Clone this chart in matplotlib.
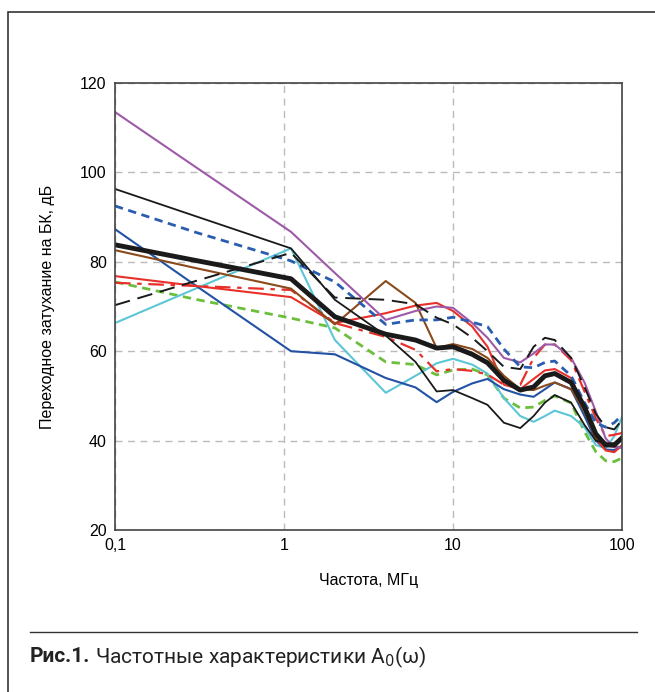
import numpy as np
import matplotlib
matplotlib.use("Agg")
import matplotlib.pyplot as plt
from matplotlib.patches import Rectangle
from matplotlib.lines import Line2D

plt.rcParams['font.family'] = ['Liberation Sans', 'DejaVu Sans']

# частоты, МГц
freq = [0.1, 0.3, 1.1, 2, 4, 6, 8, 10, 13, 16, 20, 25, 30, 35, 40, 50, 60, 70, 80, 90, 100]

# переходное затухание, дБ
purple = [113.5, 101.2, 86.7, 77.5, 67.0, 69.0, 70.0, 69.7, 66.3, 63.0, 58.5, 57.5, 59.5, 61.5, 61.5, 58.5, 53.0, 46.5, 40.5, 38.5, 38.5]
black_thin = [96.3, 90.2, 83.0, 71.5, 63.5, 57.6, 51.0, 51.3, 49.5, 48.0, 44.0, 42.8, 45.5, 48.5, 50.2, 48.5, 43.5, 40.0, 39.4, 39.4, 40.8]
black_dash = [70.3, 75.7, 82.0, 72.0, 71.5, 70.5, 67.5, 66.0, 63.0, 60.0, 56.5, 56.0, 61.0, 63.0, 62.5, 58.5, 52.0, 46.0, 43.0, 42.5, 44.6]
blue_dot = [92.5, 86.6, 80.2, 75.5, 66.0, 67.0, 67.0, 67.6, 66.5, 65.5, 60.5, 56.5, 56.3, 57.5, 57.8, 54.5, 48.5, 44.0, 43.0, 44.0, 45.7]
black_thick = [83.8, 80.3, 76.2, 67.7, 63.8, 62.5, 60.7, 61.0, 59.3, 57.4, 53.5, 51.3, 52.0, 54.5, 55.0, 53.0, 47.5, 41.5, 39.0, 39.0, 40.6]
brown = [82.6, 78.6, 74.0, 66.0, 75.7, 70.8, 60.7, 61.6, 60.5, 58.5, 54.5, 51.5, 51.3, 52.3, 53.0, 51.5, 46.5, 40.5, 39.0, 38.6, 38.6]
red = [76.8, 74.6, 72.1, 66.3, 68.5, 70.2, 70.8, 69.0, 65.5, 61.0, 52.5, 51.5, 53.8, 55.7, 56.0, 54.0, 47.0, 40.5, 37.8, 37.4, 39.0]
red_dash = [75.3, 74.6, 73.7, 66.3, 63.2, 60.3, 55.5, 56.0, 55.6, 54.8, 52.5, 52.5, 58.5, 61.5, 61.5, 58.0, 51.0, 45.0, 41.0, 41.3, 41.7]
green_dot = [75.5, 71.6, 67.4, 65.2, 57.6, 57.0, 54.7, 55.8, 56.0, 54.7, 49.5, 47.3, 47.5, 49.0, 50.0, 48.4, 42.0, 37.5, 35.5, 35.3, 36.1]
cyan = [66.3, 74.0, 83.0, 62.5, 50.7, 54.5, 57.3, 58.3, 57.0, 55.0, 49.5, 45.5, 44.2, 45.5, 46.7, 45.5, 43.0, 39.0, 38.3, 41.0, 45.3]
blue = [87.3, 74.7, 60.0, 59.3, 54.0, 51.9, 48.6, 50.9, 52.8, 53.8, 51.5, 50.3, 49.8, 51.5, 53.0, 51.5, 45.5, 40.0, 38.0, 37.9, 38.6]

fig = plt.figure(figsize=(6.55, 6.92), dpi=100)
ax = fig.add_axes([115/655, 1-530/692, 507/655, 447/692])

ax.plot(freq, green_dot, color='#6cbf3c', lw=2, dashes=(3, 2))
ax.plot(freq, cyan, color='#5cc6d6', lw=1.5)
ax.plot(freq, blue, color='#2352a5', lw=1.5)
ax.plot(freq, red, color='#e8302a', lw=1.5)
ax.plot(freq, red_dash, color='#e8302a', lw=1.6, dashes=(7, 3, 2, 3))
ax.plot(freq, brown, color='#8b4a1c', lw=1.5)
ax.plot(freq, purple, color='#9e5aa8', lw=1.5)
ax.plot(freq, blue_dot, color='#2a5db0', lw=2, dashes=(3, 2))
ax.plot(freq, black_dash, color='#1a1a1a', lw=1.4, dashes=(8, 4))
ax.plot(freq, black_thin, color='#1a1a1a', lw=1.3)
ax.plot(freq, black_thick, color='#1a1a1a', lw=3.5)

ax.set_xscale('log')
ax.set_xlim(0.1, 100)
ax.set_ylim(20, 120)
ax.set_xticks([0.1, 1, 10, 100])
ax.set_xticklabels(['0,1', '1', '10', '100'])
ax.set_yticks([20, 40, 60, 80, 100, 120])
ax.minorticks_off()
ax.tick_params(length=0, labelsize=11.5, pad=6)
ax.grid(True, color='#bbbbbb', ls=(0, (5, 4)), lw=1)
for s in ax.spines.values():
    s.set_color('#444444')
    s.set_linewidth(1.2)
ax.set_xlabel('Частота, МГц', fontsize=11.5, labelpad=14)
ax.set_ylabel('Переходное затухание на БК, дБ', fontsize=11.5, labelpad=18)

# рамка и подпись
fig.patches.append(Rectangle((8/655, -0.05), 1.1, 1-12/692+0.05, transform=fig.transFigure,
                             fill=False, ec='#333333', lw=1.2))
fig.add_artist(Line2D([30/655, 637/655], [1-632/692]*2, transform=fig.transFigure,
                      color='#333333', lw=1))
cap_font = ['Roboto', 'DejaVu Sans']
t1 = fig.text(30/655, 1-657/692, 'Рис.1.', fontsize=15, fontweight='bold',
              family=cap_font, va='center', color='#222222')
r = fig.canvas.get_renderer()
bb = t1.get_window_extent(renderer=r)
fig.text(bb.x1/fig.bbox.width + 0.007, 1-657/692, 'Частотные характеристики A$_0$(ω)',
         fontsize=15, family=cap_font, va='center', color='#222222')

fig.savefig('out.png', dpi=100)
